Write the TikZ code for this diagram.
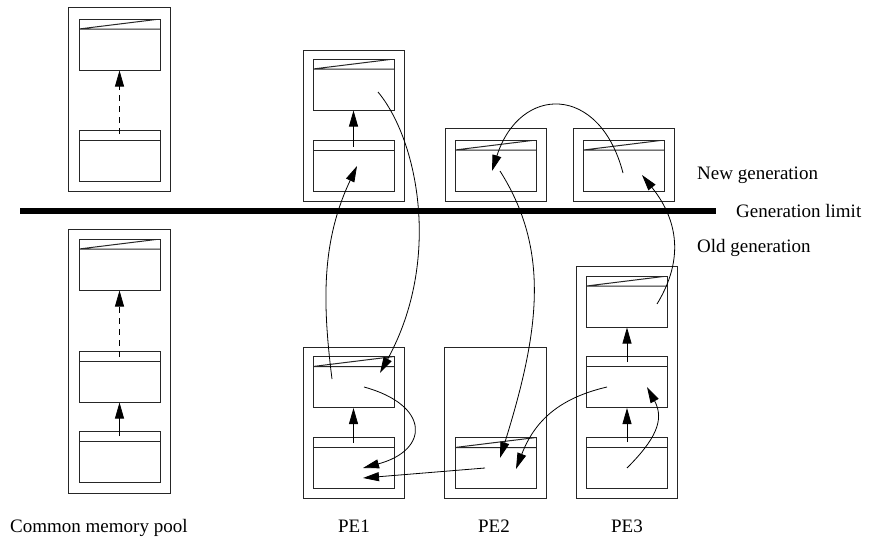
\documentclass[tikz,border=0pt]{standalone}
\usepackage{fontspec}
\setmainfont{Liberation Serif}
\usetikzlibrary{arrows.meta,calc}

\tikzset{
  frame/.style={draw=black!85, line width=1pt, inner sep=0pt},
  cell/.style={draw=black!85, line width=1pt, inner sep=0pt,
    minimum width=81pt, minimum height=51pt,
    path picture={\draw[line width=1pt]
      ([yshift=-10pt]path picture bounding box.north west) --
      ([yshift=-10pt]path picture bounding box.north east);}},
  fresh/.style={cell,
    append after command={},
    path picture={\draw[line width=1pt]
      ([yshift=-10pt]path picture bounding box.north west) --
      ([yshift=-10pt]path picture bounding box.north east)
      ([yshift=-10pt]path picture bounding box.north west) --
      (path picture bounding box.north east);}},
  ptr/.style={line width=0.8pt, -{Triangle[length=16pt,width=9pt]}},
  weak/.style={ptr, dash pattern=on 6pt off 5pt},
  label/.style={inner sep=0pt, font=\fontsize{19}{22}\selectfont},
}

\begin{document}
\begin{tikzpicture}[x=1pt, y=-1pt]
\useasboundingbox (0,0) rectangle (871,546);

% common memory pool, new and old parts
\node[frame, minimum width=102pt, minimum height=184pt] (cmpN) at (119,99) {};
\node[fresh] (a1) at (119.5,44.5) {};
\node[cell]  (a2) at (119.5,156) {};
\node[frame, minimum width=102pt, minimum height=264pt] (cmpO) at (119,361) {};
\node[fresh] (b1) at (119.5,264.5) {};
\node[cell]  (b2) at (119.5,376.5) {};
\node[cell]  (b3) at (119.5,457) {};

% PE1
\node[frame, minimum width=101pt, minimum height=151pt] (pe1N) at (353.5,125.5) {};
\node[fresh] (c1) at (353.5,84.5) {};
\node[cell]  (c2) at (353.5,165.5) {};
\node[frame, minimum width=101pt, minimum height=151pt] (pe1O) at (353.5,422.5) {};
\node[fresh] (f1) at (353.5,382) {};
\node[cell]  (f2) at (353.5,463) {};

% PE2
\node[frame, minimum width=101pt, minimum height=73pt] (pe2N) at (495.5,164.5) {};
\node[fresh] (d1) at (495.5,165.5) {};
\node[frame, minimum width=102pt, minimum height=151pt] (pe2O) at (495,422.5) {};
\node[fresh] (g1) at (495.5,463) {};

% PE3
\node[frame, minimum width=101pt, minimum height=73pt] (pe3N) at (623.5,164.5) {};
\node[fresh] (e1) at (624,165.5) {};
\node[frame, minimum width=101pt, minimum height=232pt] (pe3O) at (626.5,382) {};
\node[fresh] (h1) at (627,301.5) {};
\node[cell]  (h2) at (627,382) {};
\node[cell]  (h3) at (627,463) {};

% generation limit
\coordinate (limL) at (20,211);
\coordinate (limR) at (716,211);
\draw[line width=6pt] (limL) -- (limR);
\node[label, anchor=base west] (newg) at (697,179) {New generation};
\node[label, anchor=base west] (limt) at (736,217) {Generation limit};
\node[label, anchor=base west] (oldg) at (697,252) {Old generation};

% column labels
\node[label, anchor=base west] (lcmp) at (10,532) {Common memory pool};
\node[label, anchor=base] (lpe1) at (354,532) {PE1};
\node[label, anchor=base] (lpe2) at (494,532) {PE2};
\node[label, anchor=base] (lpe3) at (627,532) {PE3};

% links inside the columns
\draw[weak] ([yshift=-4pt]a2.north) -- (a1.south);
\draw[weak] ([yshift=-6pt]b2.north) -- (b1.south);
\draw[ptr]  ([yshift=-5pt]b3.north) -- (b2.south);
\draw[ptr]  ([yshift=-7pt]c2.north) -- (c2.north |- c1.south);
\draw[ptr]  ([yshift=-6pt]f2.north) -- (f1.south);
\draw[ptr]  ([yshift=-6pt]h2.north) -- (h1.south);
\draw[ptr]  ([yshift=-5pt]h3.north) -- (h2.south);

% end points of the cross links
\coordinate (c1o) at ($(c1)+(24.5,7.5)$);
\coordinate (c2i) at ($(c2)+(3.5,0.5)$);
\coordinate (f1i) at ($(f1)+(26.5,-9)$);
\coordinate (f1o) at ($(f1)+(-21.5,-3)$);
\coordinate (f1p) at ($(f1)+(10.5,5)$);
\coordinate (f2a) at ($(f2)+(9.5,5)$);
\coordinate (f2b) at ($(f2)+(9.5,15)$);
\coordinate (d1i) at ($(d1)+(-3.5,5.5)$);
\coordinate (d1o) at ($(d1)+(4.5,5.5)$);
\coordinate (e1o) at ($(e1)+(-1,7.5)$);
\coordinate (e1i) at ($(e1)+(18,9.5)$);
\coordinate (g1a) at ($(g1)+(4.5,-5)$);
\coordinate (g1b) at ($(g1)+(20.5,6)$);
\coordinate (g1o) at ($(g1)+(-10.5,5)$);
\coordinate (h1o) at ($(h1)+(30,2.5)$);
\coordinate (h2i) at ($(h2)+(20,5)$);
\coordinate (h2o) at ($(h2)+(-20,5)$);
\coordinate (h3o) at ($(h3)+(0,5)$);

% cross links
\draw[ptr] (c1o) .. controls (418,140) and (442,260) .. (f1i);
\draw[ptr] (f1o) .. controls (322,300) and (322,240) .. (c2i);
\draw[ptr] (e1o) .. controls (600,84) and (520,84) .. (d1i);
\draw[ptr] (d1o) .. controls (550,250) and (540,330) .. (g1a);
\draw[ptr] (h1o) .. controls (690,250) and (670,210) .. (e1i);
\draw[ptr] (h3o) .. controls (655,440) and (665,420) .. (h2i);
\draw[ptr] (h2o) .. controls (560,398) and (535,420) .. (g1b);
\draw[ptr] (g1o) -- (f2b);
\draw[ptr] (f1p) .. controls (430,405) and (430,450) .. (f2a);

\end{tikzpicture}
\end{document}
